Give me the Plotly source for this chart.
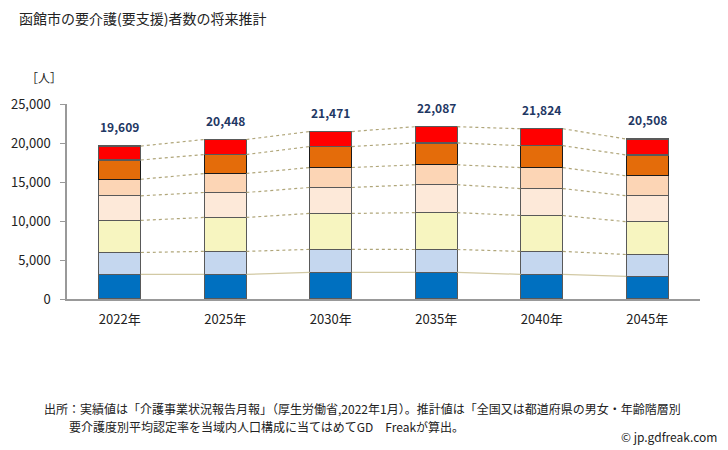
import plotly.graph_objects as go

years = ["2022年", "2025年", "2030年", "2035年", "2040年", "2045年"]
series_names = ["要支援1", "要支援2", "要介護1", "要介護2", "要介護3", "要介護4", "要介護5"]
shien1 = [3150, 3160, 3418, 3410, 3159, 2897]
shien2 = [2810, 2946, 2944, 2937, 2941, 2807]
kaigo1 = [4120, 4352, 4608, 4724, 4605, 4211]
kaigo2 = [3150, 3200, 3328, 3576, 3453, 3317]
kaigo3 = [2120, 2432, 2560, 2554, 2686, 2552]
kaigo4 = [2470, 2432, 2688, 2810, 2814, 2680]
kaigo5 = [1789, 1926, 1925, 2076, 2166, 2044]
totals = [19609, 20448, 21471, 22087, 21824, 20508]

colors = ["#0070c0", "#c5d7ef", "#f7f5c0", "#fde9d9", "#fcd5b5", "#e46c0a", "#ff0000"]
outlines = ["#595959", "#595959", "#595959", "#595959", "#595959", "#1a1a1a", "#595959"]
series = [shien1, shien2, kaigo1, kaigo2, kaigo3, kaigo4, kaigo5]

FONT = "Noto Sans CJK JP"
bar_w = 0.4
xs = list(range(len(years)))

# page is offset by the 8px body margin; work in screen coordinates
OFF = 8
W, H = 728 - OFF, 450 - OFF
PL, PR, PT, PB = 67, 700, 104, 299  # plot box in screen px


def px(X):
    return (X - PL) / (PR - PL)


def py(Y):
    return (PB - Y) / (PB - PT)


fig = go.Figure()

# connector lines between bar edges at cumulative boundaries
cum = [0] * len(years)
for k, s in enumerate(series):
    cum = [c + v for c, v in zip(cum, s)]
    lx, ly = [], []
    for i in range(len(years) - 1):
        lx += [xs[i] + bar_w / 2, xs[i + 1] - bar_w / 2, None]
        ly += [cum[i], cum[i + 1], None]
    fig.add_trace(go.Scatter(
        x=lx, y=ly, mode="lines", showlegend=False, hoverinfo="skip",
        line=dict(color="#d2c9a4" if k == 0 else "#b0a67a", width=1.2,
                  dash="solid" if k == 0 else "dot")))

for name, s, c, oc in zip(series_names, series, colors, outlines):
    fig.add_trace(go.Bar(
        x=xs, y=s, name=name, width=bar_w,
        marker=dict(color=c, line=dict(color=oc, width=1.2)),
        showlegend=False))

for x, t in zip(xs, totals):
    fig.add_annotation(x=x, y=t, text=f"<b>{t:,}</b>", showarrow=False,
                       yanchor="bottom", yshift=9,
                       font=dict(family=FONT, size=12, color="#1f3864"))

fig.update_layout(
    barmode="stack",
    width=W, height=H,
    margin=dict(l=PL - OFF, r=W - (PR - OFF), t=PT - OFF, b=H - (PB - OFF)),
    paper_bgcolor="white", plot_bgcolor="white",
    font=dict(family=FONT, size=12, color="#333333"),
    xaxis=dict(tickmode="array", tickvals=xs, ticktext=years,
               range=[-0.5, len(years) - 0.5], showgrid=False, automargin=False,
               showline=True, linecolor="#999999", linewidth=1.5,
               ticks="", ticklabelstandoff=8,
               tickfont=dict(size=13, color="#222222")),
    yaxis=dict(range=[0, 25000], tickvals=[0, 5000, 10000, 15000, 20000, 25000],
               tickformat=",", showgrid=False, showline=True, automargin=False,
               linecolor="#999999", linewidth=1.5, ticks="outside",
               ticklen=5, tickcolor="#999999", ticklabelstandoff=7,
               tickfont=dict(size=13, color="#222222")),
)


def note(X, Y, text, anchor="left", size=12):
    fig.add_annotation(xref="paper", yref="paper", x=px(X), y=py(Y),
                       xanchor=anchor, yanchor="middle", showarrow=False,
                       text=text, font=dict(family=FONT, size=size, color="#222222"))


note(17, 18, "函館市の要介護(要支援)者数の将来推計", size=14)
note(24, 77, "［人］", size=12)
note(42, 408, "出所：実績値は「介護事業状況報告月報」（厚生労働省,2022年1月）。推計値は「全国又は都道府県の男女・年齢階層別")
note(67, 426, "要介護度別平均認定率を当域内人口構成に当てはめてGD　Freakが算出。")
note(719, 436, "© jp.gdfreak.com", anchor="right")

fig.write_html("out.html")
